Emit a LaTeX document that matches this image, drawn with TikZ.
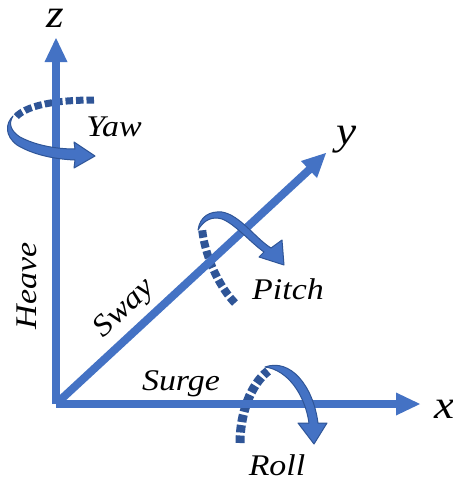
\documentclass[tikz,border=0pt]{standalone}
\usepackage{fontspec}
\setmainfont[ItalicFeatures={FakeStretch=1.13}]{Liberation Serif}
\definecolor{axisblue}{HTML}{4472C4}
\definecolor{darkblue}{HTML}{2F5597}
\begin{document}
\begin{tikzpicture}[x=1pt,y=-1pt,
  axisline/.style={draw=axisblue,line width=8pt},
  axishead/.style={fill=axisblue,draw=none},
  dashpart/.style={draw=darkblue,dash pattern=on 7.5pt off 3pt},
  solidpart/.style={fill=axisblue,draw=darkblue,line width=1pt,line join=round},
  lab/.style={font=\itshape\fontsize{30}{30}\selectfont,text=black,inner sep=0pt},
  biglab/.style={font=\itshape\fontsize{40}{40}\selectfont,text=black,inner sep=0pt}]
\useasboundingbox (0,0) rectangle (453,480);
\fill[white] (0,0) rectangle (453,480);
\coordinate (o) at (56,404);
\coordinate (zb) at (56,60);
\coordinate (yb) at (310,169);
\coordinate (xb) at (398,404);
% dashed backs
\draw[dashpart,line width=7pt] (94,100) .. controls (70,100) and (28,102) .. (15,118);
\draw[dashpart,line width=8pt] (235,303) .. controls (222,290) and (205,260) .. (202,228);
\draw[dashpart,line width=9pt] (240,443) .. controls (240,415) and (250,385) .. (268,371);
% axes
\draw[axisline] (o) -- (zb);
\draw[axisline] (o) -- (yb);
\draw[axisline] (o) -- (xb);
\fill[axishead] (56,38) -- (67.5,62) -- (44.5,62) -- cycle;
\fill[axishead] (326,153) -- (317,178) -- (301,161) -- cycle;
\fill[axishead] (420,404) -- (396,392.5) -- (396,415.5) -- cycle;
% Yaw
\draw[solidpart] (13,116) .. controls (8,124) and (11,131) .. (20,137)
  .. controls (35,145) and (55,149) .. (75,149) -- (74,142) -- (95,156) -- (74,168) -- (75,160)
  .. controls (50,159) and (30,153) .. (17,145) .. controls (5,136) and (5,124) .. cycle;
% Pitch
\draw[solidpart] (198,230) .. controls (200,216) and (210,211) .. (222,212)
  .. controls (240,215) and (255,238) .. (271,248) -- (282,240) -- (284,265) -- (259,257) -- (264,252)
  .. controls (250,242) and (235,224) .. (222,219) .. controls (212,216) and (204,220) .. cycle;
% Roll
\draw[solidpart] (265,367) .. controls (290,358) and (313,385) .. (318,423) -- (327,423) -- (314,444) -- (298,423) -- (309,423)
  .. controls (305,395) and (288,370) .. cycle;
% labels
\node[biglab] (zlab) at (55,18) {z};
\node[biglab] (ylab) at (347,140) {y};
\node[biglab] (xlab) at (445,409) {x};
\node[lab] (yaw) at (114,127) {Yaw};
\node[lab,rotate=90] (heave) at (27,286) {Heave};
\node[lab,rotate=44] (sway) at (125,309) {Sway};
\node[lab] (surge) at (181,384) {Surge};
\node[lab] (pitch) at (288,289) {Pitch};
\node[lab] (roll) at (277,465) {Roll};
\end{tikzpicture}
\end{document}
